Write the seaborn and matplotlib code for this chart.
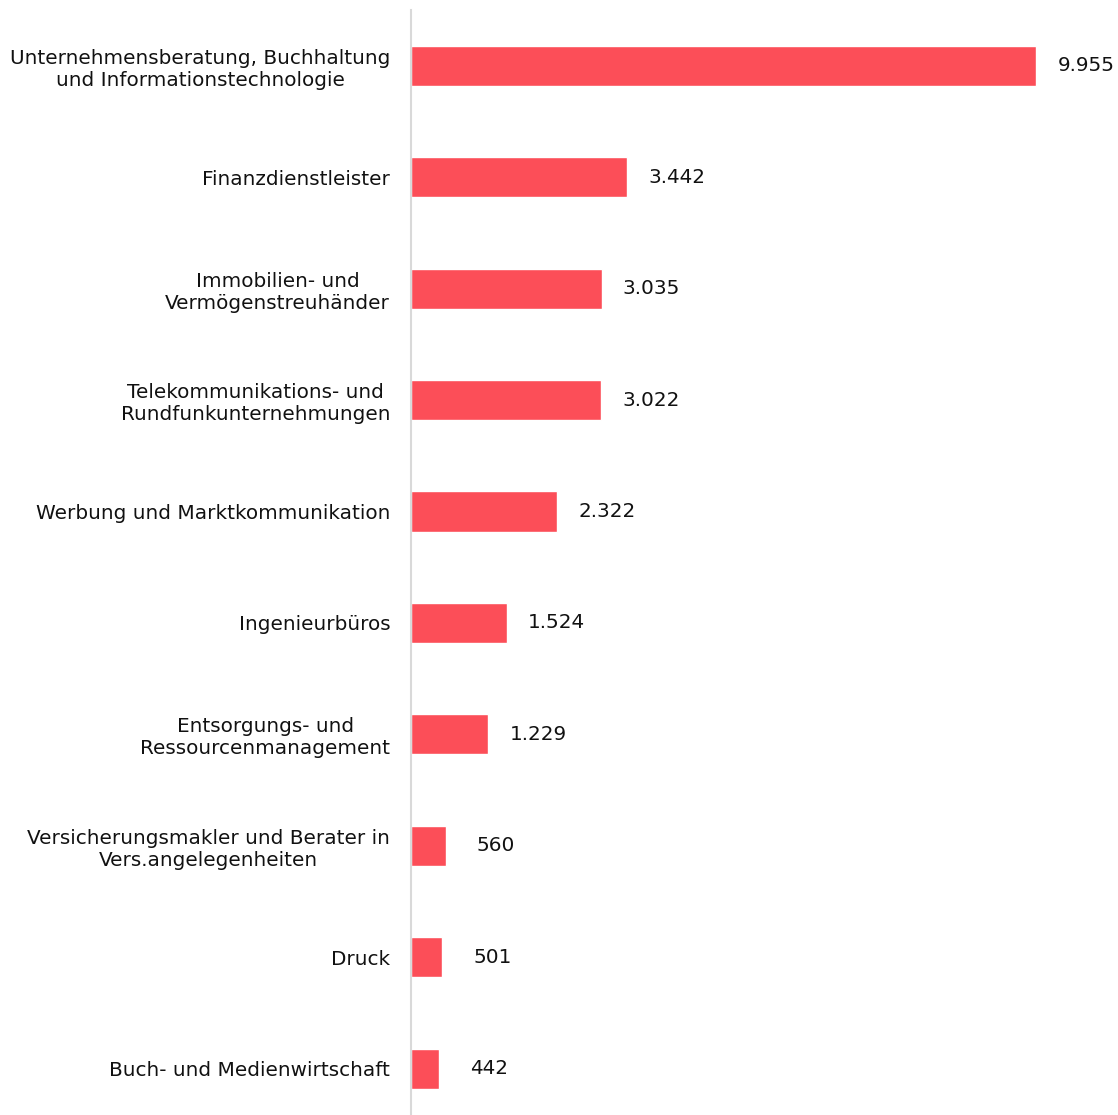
import pandas as pd
import matplotlib.pyplot as plt
import seaborn as sns

# data
branchen = [
    "Unternehmensberatung, Buchhaltung\nund Informationstechnologie",
    "Finanzdienstleister",
    "Immobilien- und\nVermögenstreuhänder",
    "Telekommunikations- und\nRundfunkunternehmungen",
    "Werbung und Marktkommunikation",
    "Ingenieurbüros",
    "Entsorgungs- und\nRessourcenmanagement",
    "Versicherungsmakler und Berater in\nVers.angelegenheiten",
    "Druck",
    "Buch- und Medienwirtschaft",
]
anzahl = [9955, 3442, 3035, 3022, 2322, 1524, 1229, 560, 501, 442]

df = pd.DataFrame({"branche": branchen, "anzahl": anzahl})

sns.set_theme(style="white")
plt.rcParams['font.family'] = ['DejaVu Sans']

fig = plt.figure(figsize=(11.18, 11.15), dpi=100)
ax = fig.add_axes([411 / 1118, -0.0085, 1 - 411 / 1118, 0.9995])

sns.barplot(data=df, y="branche", x="anzahl", orient="h", color="#FC4E58",
            width=0.36, saturation=1, ax=ax)

ax.set_xlim(0, 11261)
ax.set_ylim(9.5, -0.5)
ax.set_xlabel("")
ax.set_ylabel("")
ax.set_xticks([])

for side in ["top", "right", "bottom"]:
    ax.spines[side].set_visible(False)
ax.spines["left"].set_color("#d9d9d9")
ax.spines["left"].set_linewidth(1.5)

ax.tick_params(axis="y", length=0, pad=15, labelsize=14.4, labelcolor="#111111")
for lbl in ax.get_yticklabels():
    lbl.set_multialignment("center")

# value labels with German thousands separator
for i, v in enumerate(anzahl):
    txt = f"{v:,}".replace(",", ".")
    ax.annotate(txt, xy=(v, i), xytext=(50, 0), textcoords="offset pixels",
                ha="center", va="center", fontsize=14.4, color="#111111")

plt.savefig("out.png", dpi=100)
